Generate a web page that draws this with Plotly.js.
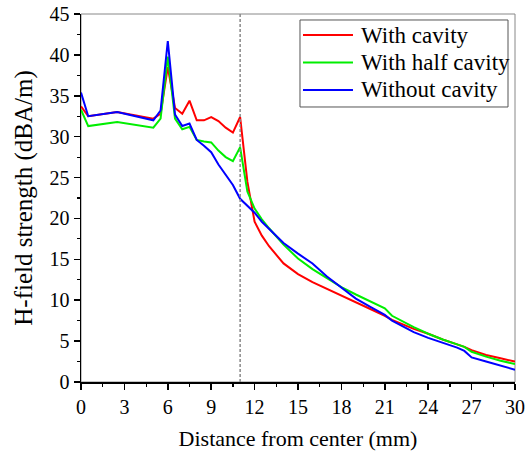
<!DOCTYPE html>
<html>
<head>
<meta charset="utf-8">
<script src="https://cdn.plot.ly/plotly-3.0.1.min.js"></script>
<style>body{margin:0;padding:0;background:#fff}#chart{width:525px;height:455px}</style>
</head>
<body>
<div id="chart"></div>
<script>
const distance = [0, 0.5, 2.5, 5, 5.5, 6, 6.5, 7, 7.5, 8, 8.5, 9, 9.5, 10, 10.5, 11, 11.5, 12, 12.5, 13, 14, 15, 16, 17, 18, 19, 20, 21, 21.5, 22, 23, 24, 25, 26, 26.5, 27, 28, 29, 30];
const withCavity = [33.7, 32.5, 33.0, 32.2, 32.8, 38.5, 33.5, 32.8, 34.4, 32.0, 32.0, 32.4, 31.9, 31.1, 30.5, 32.4, 24.5, 19.6, 17.9, 16.6, 14.5, 13.2, 12.2, 11.4, 10.5, 9.7, 8.9, 8.1, 7.6, 7.2, 6.5, 5.9, 5.2, 4.6, 4.3, 3.9, 3.3, 2.9, 2.5];
const withHalfCavity = [33.3, 31.3, 31.8, 31.1, 32.2, 39.8, 32.2, 30.9, 31.2, 29.6, 29.4, 29.3, 28.3, 27.5, 27.0, 28.7, 23.3, 21.2, 19.9, 18.8, 16.8, 15.1, 13.8, 12.7, 11.6, 10.7, 9.8, 9.0, 8.1, 7.6, 6.7, 5.9, 5.2, 4.6, 4.3, 3.7, 3.1, 2.6, 2.2];
const withoutCavity = [35.4, 32.5, 33.0, 32.0, 33.2, 41.7, 32.7, 31.3, 31.6, 29.6, 28.9, 28.1, 26.6, 25.3, 24.1, 22.4, 21.5, 20.7, 19.6, 18.7, 17.0, 15.7, 14.5, 12.9, 11.5, 10.2, 9.2, 8.2, 7.5, 7.0, 6.1, 5.4, 4.8, 4.2, 3.8, 3.0, 2.5, 2.0, 1.5];
const seriesNames = ["With cavity", "With half cavity", "Without cavity"];
const seriesColors = ["#ff0000", "#00ee00", "#0000ff"];
const markerX = 11;

const serif = "Liberation Serif, Times New Roman, serif";
const seriesData = [withCavity, withHalfCavity, withoutCavity];
const traces = seriesData.map((ys, i) => ({
  x: distance, y: ys, name: seriesNames[i], mode: "lines", showlegend: false,
  line: {color: seriesColors[i], width: 2}
}));

// Manual legend (box, line samples, labels) placed in paper coordinates
const legendBox = {x0: 0.5046, x1: 0.9839, y0: 0.7473, y1: 0.9837};
const legendRows = [0.9429, 0.8682, 0.7935];
const shapes = [
  {type: "line", xref: "x", yref: "paper", x0: markerX, x1: markerX, y0: 0, y1: 1,
   line: {color: "#888", width: 1.5, dash: "3px,2px"}},
  {type: "rect", xref: "paper", yref: "paper", x0: 0, x1: 1, y0: 0, y1: 1,
   line: {color: "#888", width: 1}, layer: "below"},
  {type: "rect", xref: "paper", yref: "paper", x0: legendBox.x0, x1: legendBox.x1,
   y0: legendBox.y0, y1: legendBox.y1, fillcolor: "#fff", line: {color: "#555", width: 1}}
];
const annotations = [];
legendRows.forEach((yy, i) => {
  shapes.push({type: "line", xref: "paper", yref: "paper", x0: 0.5115, x1: 0.6267, y0: yy, y1: yy,
    line: {color: seriesColors[i], width: 2}});
  annotations.push({xref: "paper", yref: "paper", x: 0.6405, y: yy, xanchor: "left", yanchor: "middle",
    text: seriesNames[i], showarrow: false, font: {family: serif, size: 23, color: "#000"}});
});

const axisCommon = {
  showgrid: false, zeroline: false, showline: true, linecolor: "#000", linewidth: 1.5,
  ticks: "outside", ticklen: 6, tickwidth: 1.5, tickcolor: "#000",
  tickfont: {family: serif, size: 20, color: "#000"},
  minor: {ticks: "outside", ticklen: 3, tickwidth: 1.2, tickcolor: "#000"}
};
const layout = {
  width: 525, height: 455,
  margin: {l: 81, r: 10, t: 14, b: 73},
  paper_bgcolor: "#fff", plot_bgcolor: "#fff",
  showlegend: false,
  xaxis: Object.assign({}, axisCommon, {range: [0, 30], dtick: 3, tick0: 0,
    minor: Object.assign({}, axisCommon.minor, {dtick: 1.5}),
    title: {text: "Distance from center (mm)", font: {family: serif, size: 22, color: "#000"}, standoff: 14}}),
  yaxis: Object.assign({}, axisCommon, {range: [0, 45], dtick: 5, tick0: 0,
    minor: Object.assign({}, axisCommon.minor, {dtick: 2.5}),
    title: {text: "H-field strength (dBA/m)", font: {family: serif, size: 25, color: "#000"}, standoff: 10}}),
  shapes: shapes,
  annotations: annotations
};
Plotly.newPlot("chart", traces, layout, {displayModeBar: false, staticPlot: true});
</script>
</body>
</html>
